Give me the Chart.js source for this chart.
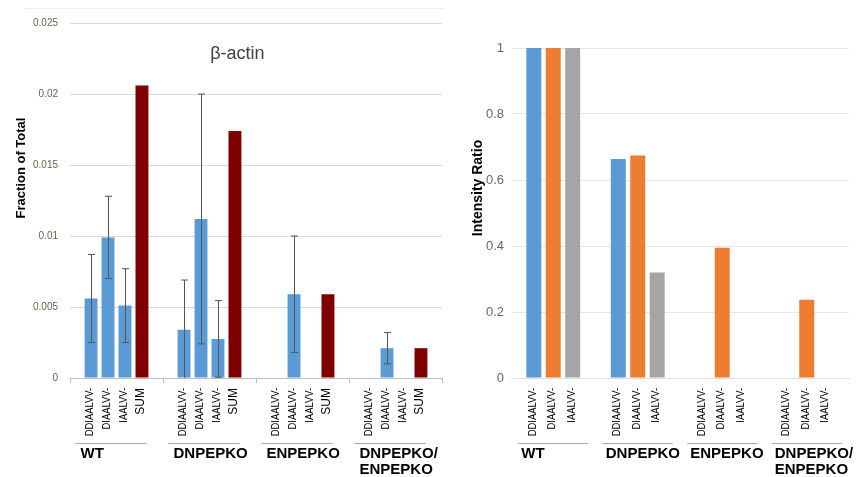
<!DOCTYPE html>
<html>
<head>
<meta charset="utf-8">
<script src="https://cdn.jsdelivr.net/npm/chart.js@4"></script>
<style>
    body { margin: 0; background: #ffffff; }
    #izq { position: absolute; left: 0; top: 0; }
    #der { position: absolute; left: 445px; top: 0; }
</style>
</head>
<body>
<canvas id="graficoFraccion" width="445" height="477"></canvas>
<canvas id="graficoRatio" width="414" height="477"></canvas>
<script>
// grupos (genotipos) y peptidos
const grupos = ["WT", "DNPEPKO", "ENPEPKO", ["DNPEPKO/", "ENPEPKO"]];
const peptidos = ["DDIAALVV-", "DIAALVV-", "IAALVV-"];
const etiquetaSuma = "SUM";

// panel izquierdo: fraccion del total (beta-actin)
const fraccionDDIAALVV = [0.0056, 0.0034, null, null];
const fraccionDIAALVV = [0.0099, 0.0112, 0.0059, 0.0021];
const fraccionIAALVV = [0.0051, 0.00275, null, null];
const fraccionSUM = [0.0206, 0.0174, 0.0059, 0.0021];
const errorDDIAALVV = [0.0031, 0.0035, null, null];
const errorDIAALVV = [0.0029, 0.0088, 0.0041, 0.0011];
const errorIAALVV = [0.0026, 0.0027, null, null];

// panel derecho: intensity ratio
const ratioDDIAALVV = [1, 0.664, null, null];
const ratioDIAALVV = [1, 0.674, 0.395, 0.237];
const ratioIAALVV = [1, 0.32, null, null];

const fuente = "'Liberation Sans', Arial, sans-serif";

const canvasIzq = document.getElementById("graficoFraccion");
const canvasDer = document.getElementById("graficoRatio");
canvasIzq.style.position = "absolute";
canvasIzq.style.left = "0px";
canvasIzq.style.top = "0px";
canvasDer.style.position = "absolute";
canvasDer.style.left = "445px";
canvasDer.style.top = "0px";

function dibujarEtiquetas(chart, etiquetas, opciones) {
    const ctx = chart.ctx;
    const xScale = chart.scales.x;
    const base = chart.chartArea.bottom + 10;
    ctx.save();
    ctx.fillStyle = "#000000";
    etiquetas.forEach((texto, i) => {
        const meta = chart.getDatasetMeta(i);
        meta.data.forEach((barra) => {
            ctx.save();
            ctx.translate(barra.x - 1, base);
            ctx.rotate(-Math.PI / 2);
            ctx.textAlign = "right";
            ctx.textBaseline = "middle";
            if (texto === etiquetaSuma) {
                ctx.font = "12px " + fuente;
            } else {
                ctx.font = "11px " + fuente;
                ctx.scale(0.85, 1);
            }
            ctx.fillText(texto, 0, 0);
            ctx.restore();
        });
    });

    grupos.forEach((grupo, i) => {
        const centro = xScale.getPixelForValue(i) + opciones.desplazamiento;
        ctx.strokeStyle = "#a6a6a6";
        ctx.lineWidth = 1;
        ctx.beginPath();
        ctx.moveTo(centro + opciones.lineaIni, 443.5);
        ctx.lineTo(centro + opciones.lineaFin, 443.5);
        ctx.stroke();

        ctx.font = "bold 15px " + fuente;
        ctx.textAlign = "left";
        ctx.textBaseline = "middle";
        const lineas = Array.isArray(grupo) ? grupo : [grupo];
        lineas.forEach((l, k) => {
            ctx.fillText(l, centro + opciones.textoIni, 454 + k * 16);
        });
    });
    ctx.restore();
}

const pluginFraccion = {
    id: "pluginFraccion",
    afterDatasetsDraw(chart) {
        const ctx = chart.ctx;
        const y = chart.scales.y;
        const valores = [fraccionDDIAALVV, fraccionDIAALVV, fraccionIAALVV];
        const errores = [errorDDIAALVV, errorDIAALVV, errorIAALVV];
        ctx.save();
        ctx.strokeStyle = "#555555";
        ctx.lineWidth = 1;
        valores.forEach((serie, i) => {
            const meta = chart.getDatasetMeta(i);
            serie.forEach((v, j) => {
                const e = errores[i][j];
                if (v === null || e === null) return;
                const x = Math.round(meta.data[j].x) + 0.5;
                const arriba = y.getPixelForValue(v + e);
                const abajo = y.getPixelForValue(Math.max(v - e, 0));
                ctx.beginPath();
                ctx.moveTo(x, arriba);
                ctx.lineTo(x, abajo);
                ctx.moveTo(x - 3.5, arriba);
                ctx.lineTo(x + 3.5, arriba);
                if (v - e > 0) {
                    ctx.moveTo(x - 3.5, abajo);
                    ctx.lineTo(x + 3.5, abajo);
                }
                ctx.stroke();
            });
        });
        ctx.restore();
    },
    afterDraw(chart) {
        const ctx = chart.ctx;
        const area = chart.chartArea;
        ctx.save();
        // borde superior del grafico
        ctx.strokeStyle = "#ececec";
        ctx.lineWidth = 1;
        ctx.beginPath();
        ctx.moveTo(25, 8.5);
        ctx.lineTo(445, 8.5);
        ctx.stroke();

        ctx.fillStyle = "#404040";
        ctx.font = "18px " + fuente;
        ctx.textAlign = "center";
        ctx.textBaseline = "middle";
        ctx.fillText("\u03b2-actin", area.left + 0.45 * (area.right - area.left), 54);

        ctx.fillStyle = "#000000";
        ctx.font = "bold 13px " + fuente;
        ctx.translate(21, 168);
        ctx.rotate(-Math.PI / 2);
        ctx.fillText("Fraction of Total", 0, 0);
        ctx.restore();

        dibujarEtiquetas(chart, [...peptidos, etiquetaSuma], {
            desplazamiento: 0,
            lineaIni: -41,
            lineaFin: 30,
            textoIni: -36,
        });
    },
};

const pluginRatio = {
    id: "pluginRatio",
    afterDraw(chart) {
        const ctx = chart.ctx;
        ctx.save();
        ctx.fillStyle = "#000000";
        ctx.font = "bold 14px " + fuente;
        ctx.textAlign = "center";
        ctx.textBaseline = "middle";
        ctx.translate(33, 188);
        ctx.rotate(-Math.PI / 2);
        ctx.fillText("Intensity Ratio", 0, 0);
        ctx.restore();

        dibujarEtiquetas(chart, peptidos, {
            desplazamiento: 0,
            lineaIni: -35,
            lineaFin: 35,
            textoIni: -32,
        });
    },
};

const dataGraficoFraccion = {
    labels: grupos,
    datasets: [
        { label: peptidos[0], backgroundColor: "#5B9BD5", data: fraccionDDIAALVV },
        { label: peptidos[1], backgroundColor: "#5B9BD5", data: fraccionDIAALVV },
        { label: peptidos[2], backgroundColor: "#5B9BD5", data: fraccionIAALVV },
        { label: etiquetaSuma, backgroundColor: "#7F0000", data: fraccionSUM },
    ],
};

const configGraficoFraccion = {
    type: "bar",
    data: dataGraficoFraccion,
    options: {
        responsive: false,
        animation: false,
        categoryPercentage: 0.73,
        barPercentage: 0.76,
        layout: {
            padding: { top: 23, right: 3, left: 0, bottom: 0 },
        },
        plugins: {
            legend: { display: false },
            tooltip: { enabled: false },
        },
        scales: {
            x: {
                afterFit: (scale) => { scale.height = 99; },
                grid: {
                    display: true,
                    drawOnChartArea: false,
                    drawTicks: true,
                    tickLength: 5,
                    color: "#bfbfbf",
                },
                border: { display: true, color: "#bfbfbf" },
                ticks: { display: false },
            },
            y: {
                min: 0,
                max: 0.025,
                afterFit: (scale) => { scale.width = 70; },
                grid: { color: "#d9d9d9", drawTicks: false },
                border: { display: false },
                ticks: {
                    stepSize: 0.005,
                    padding: 12,
                    color: "#6e6150",
                    font: { size: 10, family: fuente },
                    callback: (v) => (v === 0 ? "0" : String(+v.toFixed(3))),
                },
            },
        },
    },
    plugins: [pluginFraccion],
};

const dataGraficoRatio = {
    labels: grupos,
    datasets: [
        { label: peptidos[0], backgroundColor: "#5B9BD5", data: ratioDDIAALVV },
        { label: peptidos[1], backgroundColor: "#ED7D31", data: ratioDIAALVV },
        { label: peptidos[2], backgroundColor: "#A5A5A5", data: ratioIAALVV },
    ],
};

const configGraficoRatio = {
    type: "bar",
    data: dataGraficoRatio,
    options: {
        responsive: false,
        animation: false,
        categoryPercentage: 0.69,
        barPercentage: 0.77,
        layout: {
            padding: { top: 48, right: 10, left: 0, bottom: 0 },
        },
        plugins: {
            legend: { display: false },
            tooltip: { enabled: false },
        },
        scales: {
            x: {
                afterFit: (scale) => { scale.height = 99; },
                grid: { display: false },
                border: { display: true, color: "#e0e0e0" },
                ticks: { display: false },
            },
            y: {
                min: 0,
                max: 1,
                afterFit: (scale) => { scale.width = 66; },
                grid: { color: "#e6e6e6", drawTicks: false },
                border: { display: false },
                ticks: {
                    stepSize: 0.2,
                    padding: 7,
                    color: "#5b6786",
                    font: { size: 13, family: fuente },
                    callback: (v) => String(+v.toFixed(1)),
                },
            },
        },
    },
    plugins: [pluginRatio],
};

const chartFraccion = new Chart(canvasIzq, configGraficoFraccion);
const chartRatio = new Chart(canvasDer, configGraficoRatio);
</script>
</body>
</html>
